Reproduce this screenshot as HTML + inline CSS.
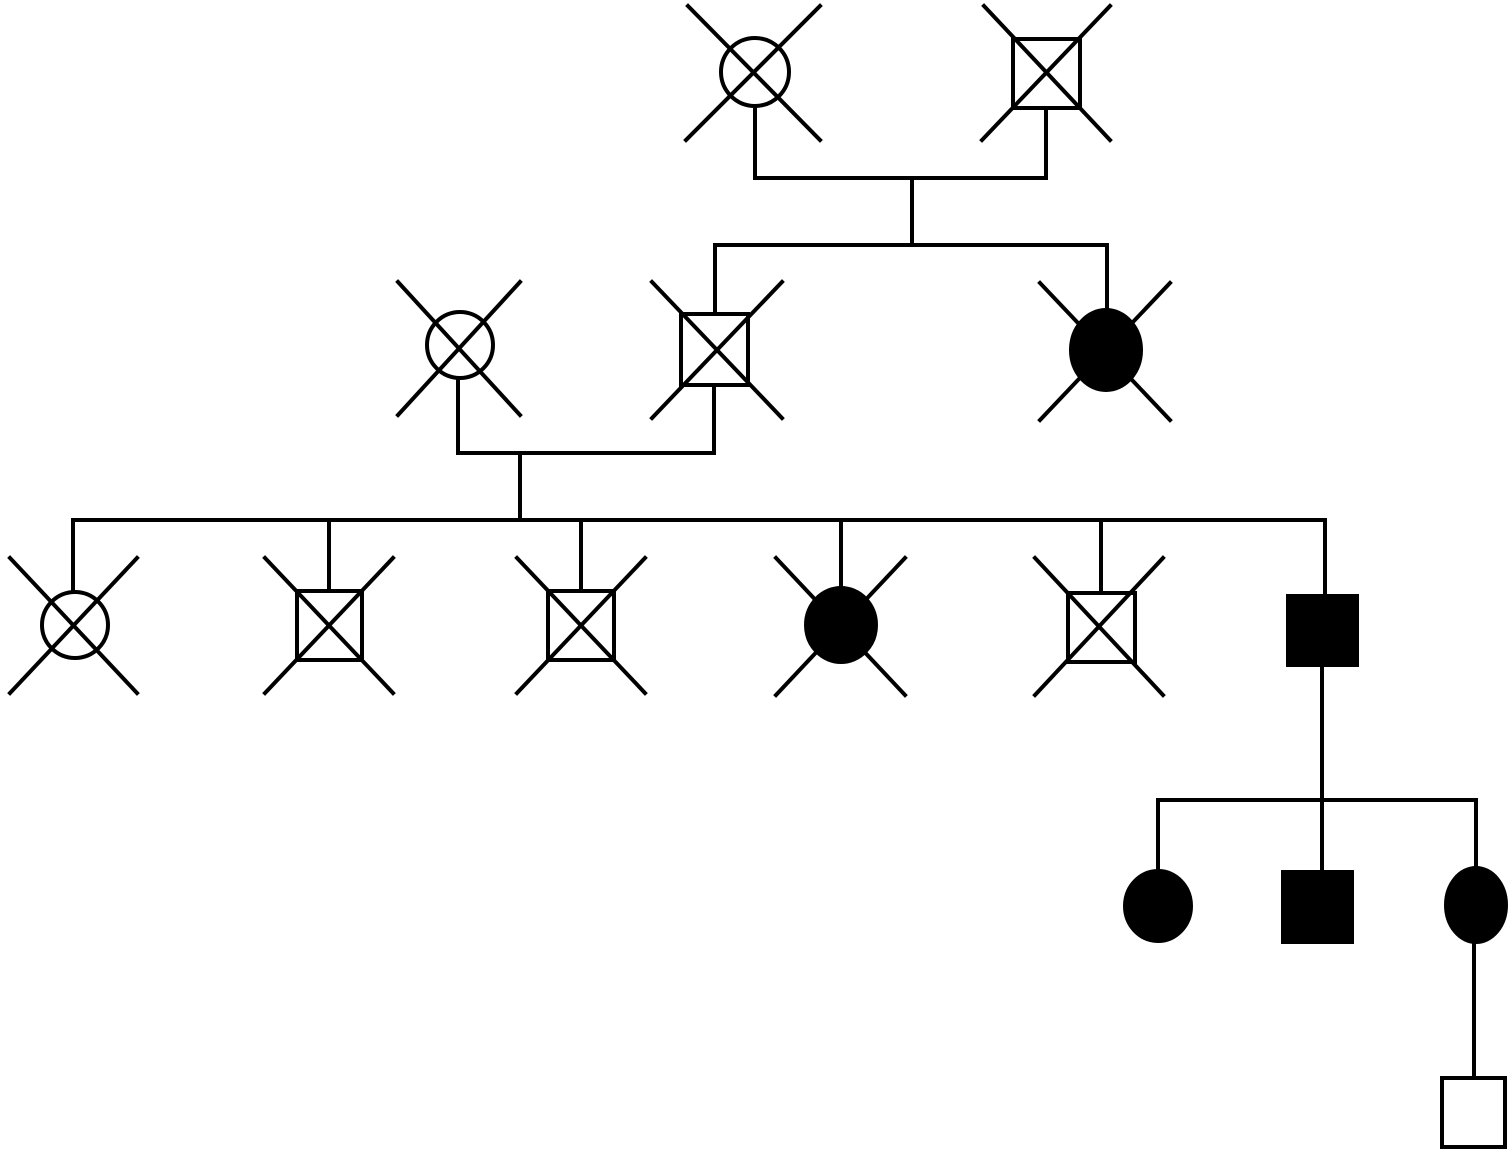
<!DOCTYPE html>
<html><head><meta charset="utf-8"><style>html,body{margin:0;padding:0;background:#fff}svg{display:block}</style></head>
<body>
<svg width="1512" height="1156" viewBox="0 0 1512 1156" xmlns="http://www.w3.org/2000/svg" stroke="#000" stroke-width="4" fill="none" stroke-linecap="square">
<!-- Gen 1 -->
<circle cx="755" cy="72" r="34" fill="#fff"/>
<line x1="688" y1="6" x2="820" y2="140"/><line x1="820" y1="6" x2="686" y2="140"/>
<rect x="1013" y="39" width="67" height="69" fill="#fff"/>
<line x1="984" y1="6" x2="1110" y2="140"/><line x1="1110" y1="6" x2="982" y2="140"/>
<polyline points="755,106 755,178 1046,178 1046,108"/>
<line x1="912" y1="178" x2="912" y2="245"/>
<polyline points="715,313 715,245 1107,245 1107,310"/>
<!-- Gen 2 -->
<circle cx="460" cy="345" r="33" fill="#fff"/>
<line x1="398" y1="282" x2="520" y2="415"/><line x1="520" y1="282" x2="398" y2="415"/>
<rect x="681" y="314" width="67" height="71" fill="#fff"/>
<line x1="652" y1="282" x2="782" y2="418"/><line x1="782" y1="282" x2="652" y2="418"/>
<ellipse cx="1106" cy="350" rx="35" ry="40" fill="#000"/>
<line x1="1040" y1="283" x2="1170" y2="420"/><line x1="1170" y1="283" x2="1040" y2="420"/>
<polyline points="458,378 458,453 714,453 714,385"/>
<line x1="520" y1="453" x2="520" y2="520"/>
<line x1="73" y1="520" x2="1325" y2="520"/>
<!-- Gen 3 verticals -->
<line x1="73" y1="520" x2="73" y2="592"/>
<line x1="329" y1="520" x2="329" y2="590"/>
<line x1="581" y1="520" x2="581" y2="590"/>
<line x1="841" y1="520" x2="841" y2="590"/>
<line x1="1101" y1="520" x2="1101" y2="592"/>
<line x1="1325" y1="520" x2="1325" y2="596"/>
<!-- Gen 3 -->
<circle cx="75" cy="625" r="33" fill="#fff"/>
<line x1="10" y1="558" x2="137" y2="693"/><line x1="137" y1="558" x2="10" y2="693"/>
<rect x="297" y="591" width="65" height="69" fill="#fff"/>
<line x1="265" y1="558" x2="393" y2="693"/><line x1="393" y1="558" x2="265" y2="693"/>
<rect x="548" y="591" width="66" height="69" fill="#fff"/>
<line x1="517" y1="558" x2="645" y2="693"/><line x1="645" y1="558" x2="517" y2="693"/>
<ellipse cx="841" cy="625" rx="35" ry="37" fill="#000"/>
<line x1="776" y1="558" x2="905" y2="695"/><line x1="905" y1="558" x2="776" y2="695"/>
<rect x="1068" y="593" width="67" height="69" fill="#fff"/>
<line x1="1035" y1="558" x2="1163" y2="695"/><line x1="1163" y1="558" x2="1035" y2="695"/>
<rect x="1288" y="596" width="69" height="69" fill="#000"/>
<!-- Gen 4 -->
<line x1="1322" y1="665" x2="1322" y2="872"/>
<polyline points="1158,872 1158,800 1476,800 1476,870"/>
<ellipse cx="1158" cy="906" rx="33" ry="35" fill="#000"/>
<rect x="1283" y="872" width="69" height="70" fill="#000"/>
<ellipse cx="1476" cy="905" rx="30" ry="37" fill="#000"/>
<line x1="1474" y1="940" x2="1474" y2="1078"/>
<rect x="1442" y="1078" width="63" height="69" fill="#fff"/>
</svg>
</body></html>
